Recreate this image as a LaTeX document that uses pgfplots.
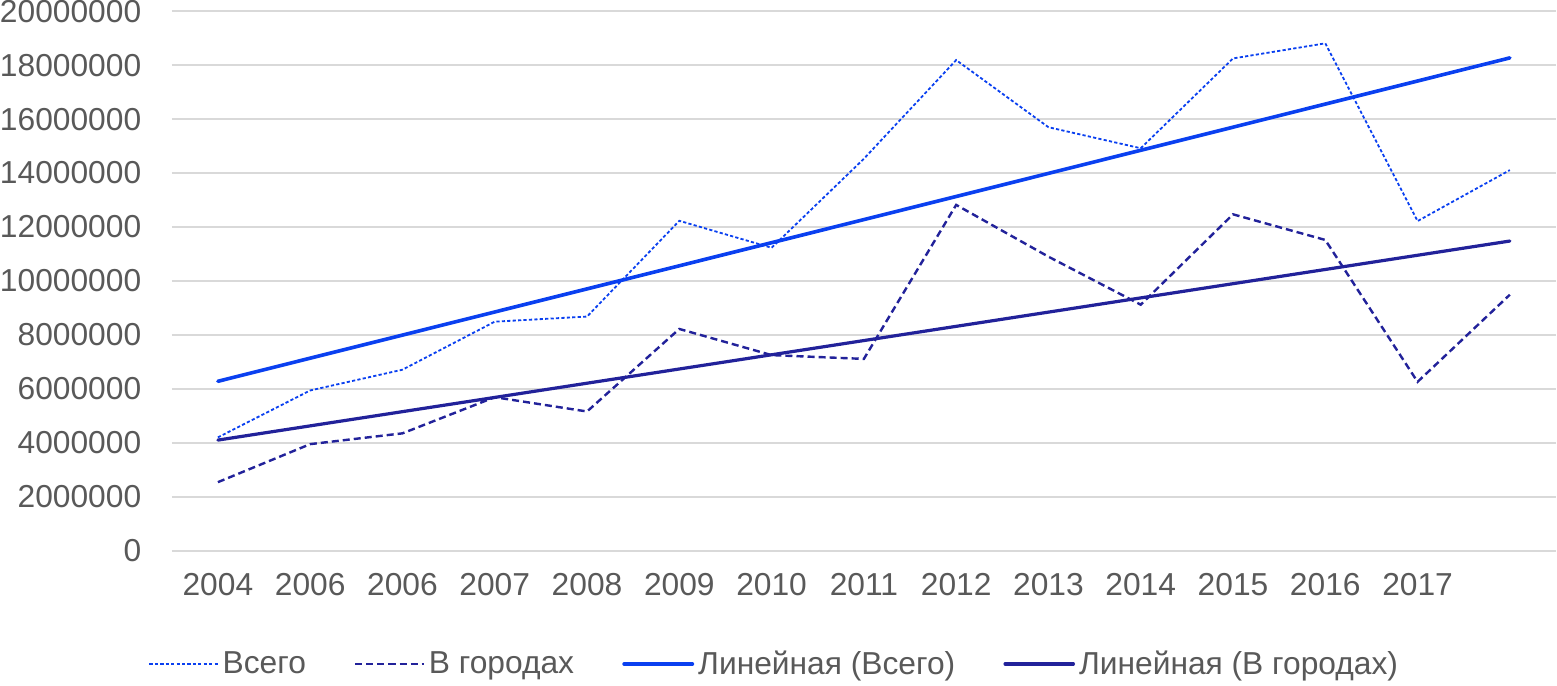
\documentclass[border=0pt]{standalone}
\usepackage{pgfplots}
\pgfplotsset{compat=1.18}
\usepackage{fontspec}
\setmainfont{Liberation Sans}
\definecolor{vsego}{RGB}{10,64,240}
\definecolor{goroda}{RGB}{34,34,154}
\definecolor{txt}{RGB}{89,89,89}
\definecolor{grd}{RGB}{217,217,217}

\begin{document}
\begin{tikzpicture}
\begin{axis}[
  scale only axis,
  width=689pt, height=268.5pt,
  xmin=-0.5, xmax=14.5,
  ymin=0, ymax=20000000,
  scaled y ticks=false,
  axis line style={draw=none},
  major tick length=0pt,
  xtick={0,...,13},
  xticklabels={2004,2006,2006,2007,2008,2009,2010,2011,2012,2013,2014,2015,2016,2017},
  ytick={0,2000000,...,20000000},
  yticklabels={0,2000000,4000000,6000000,8000000,10000000,12000000,14000000,16000000,18000000,20000000},
  ymajorgrids,
  grid style={grd, line width=1pt},
  tick label style={font=\fontsize{15.8}{18}\selectfont, text=txt},
  yticklabel style={inner sep=0pt, xshift=-15pt},
  xticklabel style={inner sep=0pt, yshift=-11pt},
  legend style={at={(0.436,-0.21)}, anchor=center, draw=none,
    font=\fontsize{15.8}{18}\selectfont, text=txt,
    /tikz/every even column/.append style={column sep=22pt}},
  legend columns=4,
  legend image code/.code={\draw[#1] (0pt,0pt) -- (34pt,0pt);},
]
\addplot[vsego, line width=0.9pt, dash pattern=on 1.6pt off 1.1pt] coordinates {
  (0,4200000) (1,5940000) (2,6710000) (3,8490000) (4,8680000)
  (5,12230000) (6,11230000) (7,14530000) (8,18190000) (9,15700000)
  (10,14920000) (11,18250000) (12,18810000) (13,12220000) (14,14110000)
};
\addlegendentry{Всего}
\addplot[goroda, line width=1.2pt, dash pattern=on 3.5pt off 2pt] coordinates {
  (0,2540000) (1,3950000) (2,4350000) (3,5690000) (4,5160000)
  (5,8220000) (6,7250000) (7,7110000) (8,12820000) (9,10900000)
  (10,9120000) (11,12470000) (12,11520000) (13,6260000) (14,9490000)
};
\addlegendentry{В городах}
\addplot[vsego, line width=1.8pt, line cap=round] coordinates {
  (0,6280000) (14,18270000)
};
\addlegendentry{Линейная (Всего)}
\addplot[goroda, line width=1.6pt, line cap=round] coordinates {
  (0,4100000) (14,11480000)
};
\addlegendentry{Линейная (В городах)}
\end{axis}
\end{tikzpicture}
\end{document}
